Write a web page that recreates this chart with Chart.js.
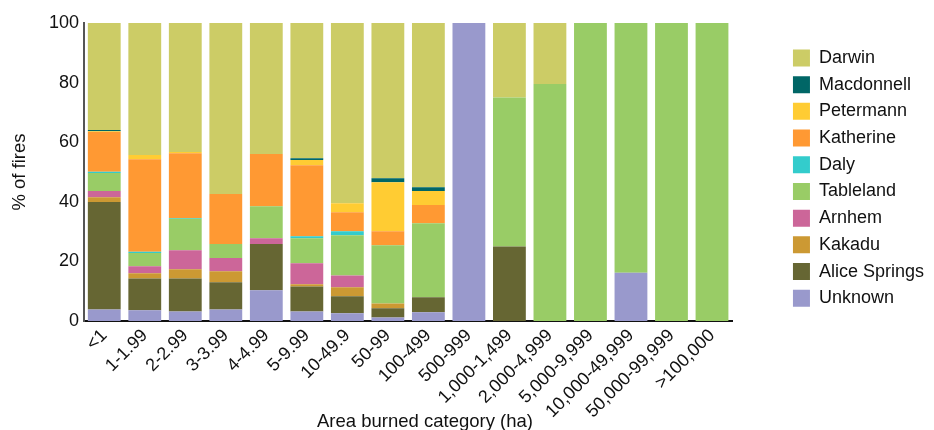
<!DOCTYPE html>
<html lang="en">
<head>
<meta charset="utf-8">
<title>Fires by area burned category</title>
<script src="https://cdn.jsdelivr.net/npm/chart.js@4.4.1/dist/chart.umd.min.js"></script>
<style>
    html, body { margin: 0; padding: 0; background: #fff; }
    canvas { display: block; }
</style>
</head>
<body>
<canvas id="fireChart" width="934" height="430"></canvas>
<script>
// Area burned categories (ha)
const categories = ['<1', '1-1.99', '2-2.99', '3-3.99', '4-4.99', '5-9.99', '10-49.9', '50-99',
    '100-499', '500-999', '1,000-1,499', '2,000-4,999', '5,000-9,999', '10,000-49,999',
    '50,000-99,999', '>100,000'];
const yTicks = [0, 20, 40, 60, 80, 100];

// % of fires in each category, by region (bottom of the stack first)
const unknown      = [3.9, 3.6, 3.2, 3.9, 10.3, 3.2, 2.6, 1.2, 2.9, 100, 0, 0, 0, 16.2, 0, 0];
const aliceSprings = [36.0, 10.7, 11.1, 9.1, 15.5, 8.4, 5.7, 3.1, 5.1, 0, 25, 0, 0, 0, 0, 0];
const kakadu       = [1.6, 1.7, 3.1, 3.7, 0, 0.7, 3.0, 1.6, 0, 0, 0, 0, 0, 0, 0, 0];
const arnhem       = [2.1, 2.4, 6.3, 4.4, 2.0, 7.1, 4.0, 0, 0, 0, 0, 0, 0, 0, 0, 0];
const tableland    = [6.1, 4.4, 10.6, 4.7, 10.7, 8.4, 13.5, 19.5, 24.8, 0, 50, 79.5, 100, 83.8, 100, 100];
const daly         = [0.4, 0.4, 0.3, 0, 0, 0.6, 1.3, 0, 0, 0, 0, 0, 0, 0, 0, 0];
const katherine    = [13.3, 31.1, 21.7, 16.8, 17.5, 23.9, 6.4, 4.7, 6.1, 0, 0, 0, 0, 0, 0, 0];
const petermann    = [0.3, 1.4, 0.4, 0, 0, 1.7, 3.0, 16.5, 4.7, 0, 0, 0, 0, 0, 0, 0];
const macdonnell   = [0.4, 0, 0, 0, 0, 0.6, 0, 1.3, 1.3, 0, 0, 0, 0, 0, 0, 0];
const darwin       = [35.9, 44.3, 43.3, 57.4, 44.0, 45.4, 60.5, 52.1, 55.1, 0, 25, 20.5, 0, 0, 0, 0];

const series = [
    ['Unknown', unknown],
    ['Alice Springs', aliceSprings],
    ['Kakadu', kakadu],
    ['Arnhem', arnhem],
    ['Tableland', tableland],
    ['Daly', daly],
    ['Katherine', katherine],
    ['Petermann', petermann],
    ['Macdonnell', macdonnell],
    ['Darwin', darwin]
];

const colours = {
    'Unknown': '#9999CC',
    'Alice Springs': '#666633',
    'Kakadu': '#CC9933',
    'Arnhem': '#CC6699',
    'Tableland': '#99CC66',
    'Daly': '#33CCCC',
    'Katherine': '#FF9933',
    'Petermann': '#FFCC33',
    'Macdonnell': '#006666',
    'Darwin': '#CCCC66'
};

const xTitle = 'Area burned category (ha)';
const yTitle = '% of fires';

const fontFamily = 'Arial, "Liberation Sans", sans-serif';
const textColour = '#111';

Chart.defaults.font.family = fontFamily;
Chart.defaults.font.size = 18;
Chart.defaults.color = textColour;

// x axis title sits a little right of the plot centre in the original
const xTitlePlugin = {
    id: 'xTitle',
    afterDraw(chart) {
        const ctx = chart.ctx;
        ctx.save();
        ctx.font = '18.5px ' + fontFamily;
        ctx.fillStyle = textColour;
        ctx.textAlign = 'center';
        ctx.textBaseline = 'alphabetic';
        ctx.fillText(xTitle, 425, 427);
        ctx.restore();
    }
};

new Chart(document.getElementById('fireChart'), {
    type: 'bar',
    data: {
        labels: categories,
        datasets: series.map(([name, values]) => ({
            label: name,
            data: values,
            backgroundColor: colours[name],
            borderWidth: 0,
            barPercentage: 0.81,
            categoryPercentage: 1
        }))
    },
    options: {
        responsive: false,
        animation: false,
        layout: {
            padding: { top: 23, left: 0, right: 0, bottom: 0 }
        },
        plugins: {
            legend: {
                position: 'right',
                fullSize: false,
                reverse: true,
                // empty title only pushes the entries down a little
                title: { display: true, text: '', font: { size: 1 }, padding: { top: 11, bottom: 0 } },
                labels: {
                    boxWidth: 17,
                    boxHeight: 17,
                    padding: 8.7,
                    color: textColour,
                    font: { size: 18 }
                }
            },
            tooltip: { enabled: false }
        },
        scales: {
            x: {
                stacked: true,
                grid: { display: false, drawTicks: false },
                border: { color: '#111', width: 2 },
                ticks: {
                    color: textColour,
                    font: { size: 18 },
                    maxRotation: 45,
                    minRotation: 45,
                    autoSkip: false,
                    padding: 4
                },
                title: { display: false },
                afterFit: (scale) => { scale.height = 109; }
            },
            y: {
                stacked: true,
                min: 0,
                max: 100,
                grid: { display: false, drawTicks: false },
                border: { color: '#555', width: 2 },
                ticks: {
                    color: textColour,
                    font: { size: 18 },
                    padding: 5
                },
                afterBuildTicks: (scale) => {
                    scale.ticks = yTicks.map(v => ({ value: v }));
                },
                title: {
                    display: true,
                    text: yTitle,
                    color: textColour,
                    font: { size: 18.5 },
                    padding: { top: 9, bottom: 0 }
                },
                afterFit: (scale) => { scale.width = 84; }
            },
            // empty axis that only keeps a gap between the plot and the legend
            gap: {
                type: 'linear',
                axis: 'y',
                position: 'right',
                grid: { display: false, drawTicks: false },
                border: { display: false },
                ticks: { display: false },
                afterFit: (scale) => { scale.width = 52; }
            }
        }
    },
    plugins: [xTitlePlugin]
});
</script>
</body>
</html>
